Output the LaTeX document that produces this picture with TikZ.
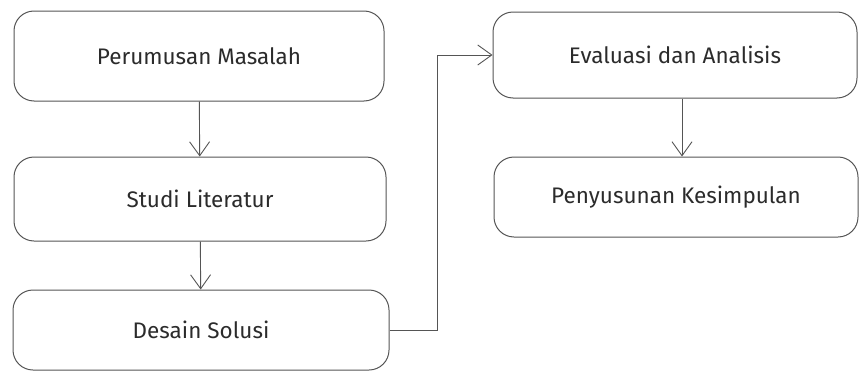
\documentclass[tikz,border=0pt]{standalone}
\usepackage{fontspec}
\setmainfont{Fira Sans}
\usetikzlibrary{arrows.meta}

\definecolor{linegray}{HTML}{555555}
\definecolor{textgray}{HTML}{2B2B2B}

\tikzset{
  stepbox/.style={draw=linegray, line width=1pt, rounded corners=20pt,
    text=textgray, font=\fontsize{22.5}{26}\selectfont, inner sep=0pt},
  flow/.style={draw=linegray, line width=0.9pt,
    -{Straight Barb[length=14pt,width=20pt]}}
}

\begin{document}
\begin{tikzpicture}[x=1pt, y=-1pt]

\useasboundingbox (0,0) rectangle (859,372);

% left column
\node[stepbox, minimum width=370pt, minimum height=90pt] (perumusan) at (199,56) {Perumusan Masalah};
\node[stepbox, minimum width=372pt, minimum height=84pt] (studi) at (200,199) {Studi Literatur};
\node[stepbox, minimum width=376pt, minimum height=80pt] (desain) at (201,330) {Desain Solusi};

% right column
\node[stepbox, minimum width=364pt, minimum height=86pt] (evaluasi) at (675,55) {Evaluasi dan Analisis};
\node[stepbox, minimum width=364pt, minimum height=80pt] (kesimpulan) at (676,197) {Penyusunan Kesimpulan};

\draw[flow] (perumusan) -- (studi);
\draw[flow] (studi) -- (desain);
\draw[flow] (desain.east) -- ++(48,0) |- (evaluasi.west);
\draw[flow] ([xshift=7pt]evaluasi.south) -- ([xshift=6pt]kesimpulan.north);

\end{tikzpicture}
\end{document}
